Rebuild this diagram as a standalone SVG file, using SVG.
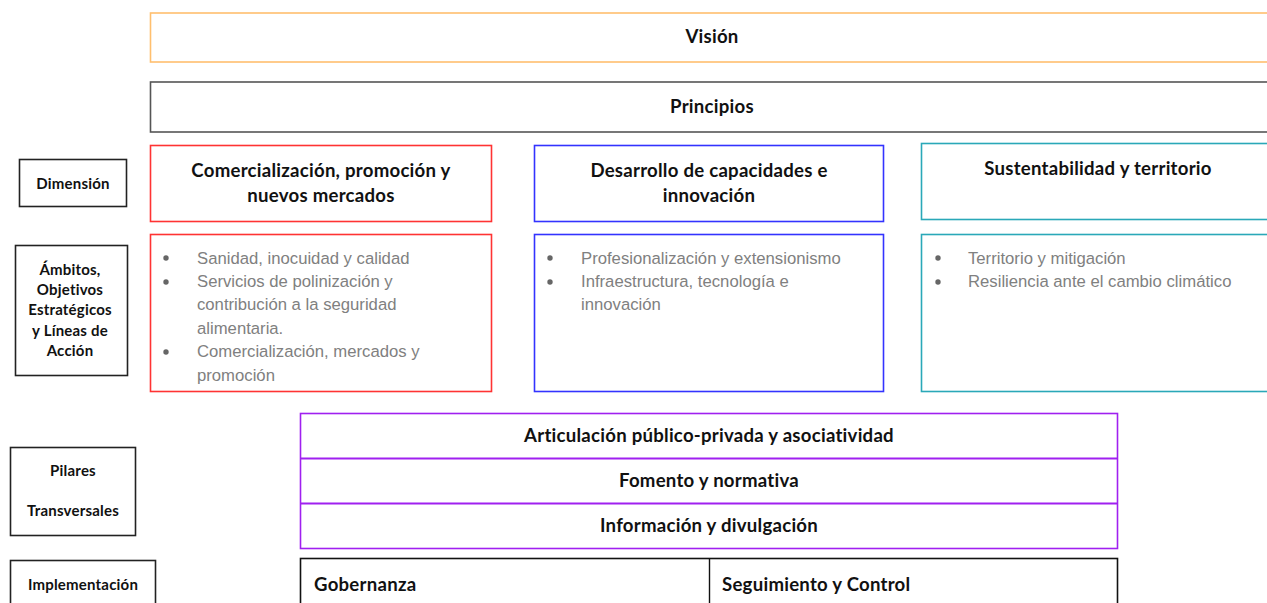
<svg xmlns="http://www.w3.org/2000/svg" width="1267" height="603" viewBox="0 0 1267 603">
<style>
.t{font-family:Lato,"Open Sans","Liberation Sans",sans-serif;font-weight:bold;fill:#111;text-anchor:middle}
.h{font-size:18.6px;letter-spacing:0.25px}
.l{font-size:15px;letter-spacing:0.2px}
.b{font-family:"Liberation Sans",Arial,sans-serif;font-size:16.7px;fill:#808080}
.dot{fill:#666}
.box{fill:#fff;stroke-width:1.6}
</style>
<rect width="1267" height="603" fill="#fff"/>
<g id="vision"><rect class="box" x="150.5" y="13" width="1130" height="49" stroke="#ffbf6e"/><text class="t h" x="712" y="43">Visión</text></g>
<g id="principios"><rect class="box" x="150.5" y="82" width="1130" height="50" stroke="#555"/><text class="t h" x="712" y="113">Principios</text></g>
<g id="lbl-dimension"><rect class="box" x="19.5" y="159.5" width="107" height="47" stroke="#222" stroke-width="1.2"/><text class="t l" x="73" y="189">Dimensión</text></g>
<g id="lbl-ambitos"><rect class="box" x="15.5" y="245.5" width="112" height="130" stroke="#222" stroke-width="1.2"/><text class="t l" x="70" y="275">Ámbitos,</text><text class="t l" x="70" y="295">Objetivos</text><text class="t l" x="70" y="315">Estratégicos</text><text class="t l" x="70" y="336">y Líneas de</text><text class="t l" x="70" y="356">Acción</text></g>
<g id="lbl-pilares"><rect class="box" x="10.5" y="447.5" width="125" height="88" stroke="#222" stroke-width="1.2"/><text class="t l" x="73" y="476">Pilares</text><text class="t l" x="73" y="516">Transversales</text></g>
<g id="lbl-implementacion"><rect class="box" x="10.5" y="560.5" width="145" height="60" stroke="#222" stroke-width="1.2"/><text class="t l" x="83" y="590">Implementación</text></g>
<g id="dim-comercializacion"><rect class="box" x="150.5" y="145.5" width="341" height="76" stroke="#f33"/><text class="t h" x="321" y="177">Comercialización, promoción y</text><text class="t h" x="321" y="202">nuevos mercados</text></g>
<g id="dim-desarrollo"><rect class="box" x="534.5" y="145.5" width="349" height="76" stroke="#33f"/><text class="t h" x="709" y="177">Desarrollo de capacidades e</text><text class="t h" x="709" y="202">innovación</text></g>
<g id="dim-sustentabilidad"><rect class="box" x="921.5" y="143.5" width="360" height="76" stroke="#2aa8b8"/><text class="t h" x="1098" y="175">Sustentabilidad y territorio</text></g>
<g id="amb-comercializacion"><rect class="box" x="150.5" y="234.5" width="341" height="157" stroke="#f33"/>
<circle class="dot" cx="166" cy="258" r="2.7"/><circle class="dot" cx="166" cy="282" r="2.7"/><circle class="dot" cx="166" cy="352" r="2.7"/>
<text class="b" x="197" y="264">Sanidad, inocuidad y calidad</text><text class="b" x="197" y="287">Servicios de polinización y</text><text class="b" x="197" y="310">contribución a la seguridad</text><text class="b" x="197" y="334">alimentaria.</text><text class="b" x="197" y="357">Comercialización, mercados y</text><text class="b" x="197" y="381">promoción</text></g>
<g id="amb-desarrollo"><rect class="box" x="534.5" y="234.5" width="349" height="157" stroke="#33f"/>
<circle class="dot" cx="550" cy="258" r="2.7"/><circle class="dot" cx="550" cy="282" r="2.7"/>
<text class="b" x="581" y="264">Profesionalización y extensionismo</text><text class="b" x="581" y="287">Infraestructura, tecnología e</text><text class="b" x="581" y="310">innovación</text></g>
<g id="amb-sustentabilidad"><rect class="box" x="921.5" y="234.5" width="360" height="157" stroke="#2aa8b8"/>
<circle class="dot" cx="938" cy="258" r="2.7"/><circle class="dot" cx="938" cy="282" r="2.7"/>
<text class="b" x="968" y="264">Territorio y mitigación</text><text class="b" x="968" y="287">Resiliencia ante el cambio climático</text></g>
<g id="pilares"><rect class="box" x="300.5" y="413.5" width="817" height="135" stroke="#a020f0" stroke-width="2"/>
<line x1="300" y1="458.5" x2="1118" y2="458.5" stroke="#a020f0" stroke-width="1.8"/><line x1="300" y1="503.5" x2="1118" y2="503.5" stroke="#a020f0" stroke-width="1.8"/>
<text class="t h" x="709" y="442">Articulación público-privada y asociatividad</text><text class="t h" x="709" y="487">Fomento y normativa</text><text class="t h" x="709" y="532">Información y divulgación</text></g>
<g id="implementacion"><rect class="box" x="300.5" y="558.5" width="817" height="60" stroke="#111" stroke-width="1.6"/><line x1="709.5" y1="558" x2="709.5" y2="603" stroke="#111" stroke-width="1.4"/>
<text class="t h" x="314" y="591" style="text-anchor:start">Gobernanza</text><text class="t h" x="722" y="591" style="text-anchor:start">Seguimiento y Control</text></g>
<g id="connectors"/>
</svg>
